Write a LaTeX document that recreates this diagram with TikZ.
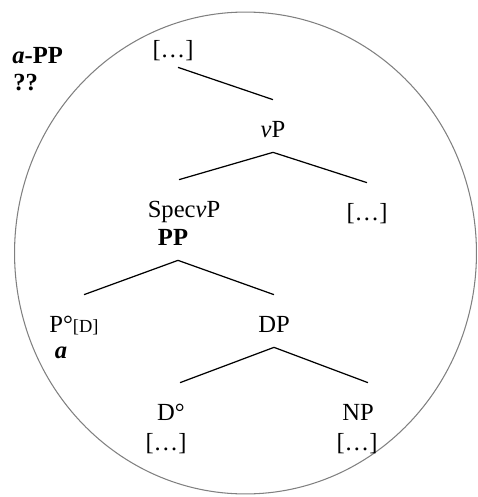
\documentclass[tikz,border=0pt]{standalone}
\usepackage{fontspec}
\setmainfont{Liberation Serif}
\begin{document}
\begin{tikzpicture}[x=0.02cm, y=-0.02cm,
    cat/.style={anchor=base, inner sep=0pt, text height=0.74cm, text depth=0.3cm, font=\fontsize{14}{16}\selectfont},
    txt/.style={anchor=base, inner sep=0pt, font=\fontsize{14}{16}\selectfont},
    branch/.style={line width=0.7pt}]
    \useasboundingbox (0,0) rectangle (477,497);

    % Cerchio
    \draw[gray, line width=0.6pt] (245.5,253) ellipse [x radius=4.62cm, y radius=4.82cm];

    % Etichetta esterna
    \node[txt, anchor=base west] (app) at (12,63) {\textbf{\textit{a}-PP}};
    \node[txt, anchor=base west] (qq) at (13,90) {\textbf{??}};

    % Nodi dell'albero
    \node[cat] (top) at (173,57) {[…]};
    \node[cat] (vp) at (273,137) {\textit{v}P};
    \node[cat] (spec) at (184,217) {Spec\textit{v}P};
    \node[cat] (pp) at (173,245) {\textbf{PP}};
    \node[cat] (rest) at (367,220) {[…]};
    \node[cat] (pd) at (74,332) {P°{\fontsize{10.5}{12}\selectfont[D]}};
    \node[txt] (pa) at (61,358) {\textbf{\textit{a}}};
    \node[cat] (dp) at (274,332) {DP};
    \node[cat] (d) at (171,420) {D°};
    \node[txt] (dx) at (166,450) {[…]};
    \node[cat] (np) at (358,420) {NP};
    \node[txt] (nx) at (357,450) {[…]};

    % Rami
    \draw[branch] ([shift={(5,-5)}]top.south) -- (vp.north);
    \draw[branch] (vp.south) -- ([xshift=-0.1cm]spec.north);
    \draw[branch] (vp.south) -- (rest.north);
    \draw[branch] ([xshift=0.1cm]pp.south) -- ([xshift=0.2cm]pd.north);
    \draw[branch] ([xshift=0.1cm]pp.south) -- (dp.north);
    \draw[branch] (dp.south) -- ([xshift=0.18cm]d.north);
    \draw[branch] (dp.south) -- ([xshift=0.2cm]np.north);
\end{tikzpicture}
\end{document}
